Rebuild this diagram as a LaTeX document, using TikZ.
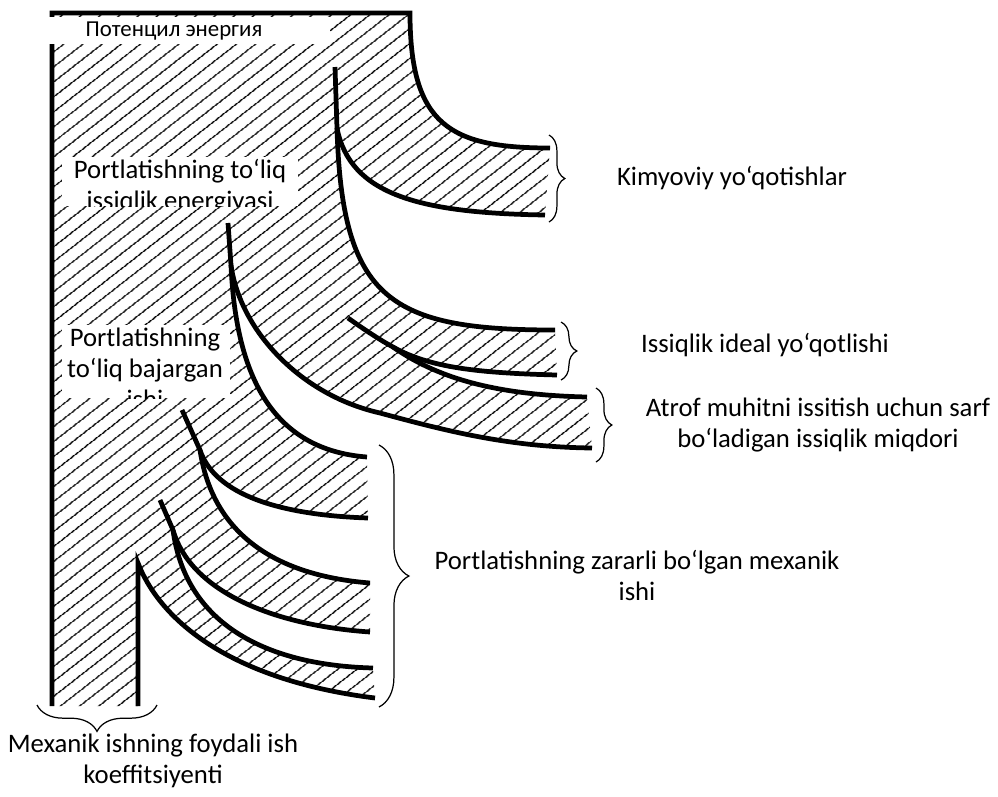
\documentclass[tikz,border=0pt]{standalone}
\usepackage{fontspec}
\setmainfont{Carlito}
\usetikzlibrary{patterns.meta,decorations.pathreplacing}

\begin{document}
\begin{tikzpicture}[x=0.02cm, y=-0.02cm,
  trait/.style={line width=2.7pt},
  hachure/.style={pattern={Lines[angle=38,distance=6.5pt,line width=0.85pt]}},
  accolade/.style={decorate, decoration={brace, amplitude=#1}, line width=0.7pt},
  lbl/.style={font=\fontsize{15.2}{17.6}\selectfont, align=center, inner sep=0pt}]
  \useasboundingbox (0,0) rectangle (998,796);
  % points où les flux se séparent
  \coordinate (s1) at (337,128);
  \coordinate (s2) at (393,347);
  \coordinate (s3) at (231,265);
  \coordinate (s4) at (200,450);
  \coordinate (s5) at (173,530);
  % zone hachurée (contour extérieur de tous les flux)
  \fill[hachure] (52,13) -- (410,13) .. controls (410,125) and (450,148) .. (550,148)
    -- (545,215) .. controls (420,213) and (350,195) .. (s1)
    .. controls (342,300) and (390,330) .. (555,330)
    -- (557,375) .. controls (480,373) and (430,368) .. (s2)
    .. controls (440,380) and (500,395) .. (587,397)
    -- (592,448) .. controls (510,447) and (450,432) .. (380,413)
    .. controls (300,395) and (240,330) .. (s3)
    .. controls (236,380) and (275,450) .. (367,457)
    -- (368,518) .. controls (280,515) and (215,495) .. (s4)
    .. controls (212,530) and (270,575) .. (370,583)
    -- (370,632) .. controls (270,625) and (190,590) .. (s5)
    .. controls (185,620) and (260,665) .. (373,668)
    -- (375,698) .. controls (230,680) and (160,620) .. (138,563)
    -- (138,706) -- (52,706) -- cycle;
  % encadrés blancs (texte coupé par le cadre)
  \begin{scope}
    \clip (62,157) rectangle (298,206);
    \fill[white] (62,157) rectangle (298,206);
    \node[lbl, anchor=base] (issiq) at (180,209) {Portlatishning to‘liq\\issiqlik energiyasi};
  \end{scope}
  \begin{scope}
    \clip (62,325) rectangle (230,398);
    \fill[white] (62,325) rectangle (230,398);
    \node[lbl, anchor=base] (ish) at (145,408) {Portlatishning\\to‘liq bajargan\\ishi};
  \end{scope}
  % bords des flux
  \draw[trait] (52,706) -- (52,13) -- (410,13) .. controls (410,125) and (450,148) .. (550,148);
  % pertes chimiques
  \draw[trait] (335,67) -- (s1) .. controls (350,195) and (420,213) .. (545,215);
  \draw[trait] (s1) .. controls (342,300) and (390,330) .. (555,330);
  % pertes de chaleur
  \draw[trait] (348,318) .. controls (365,330) and (380,340) .. (s2) .. controls (430,368) and (480,373) .. (557,375);
  \draw[trait] (s2) .. controls (440,380) and (500,395) .. (587,397);
  \draw[trait] (228,223) -- (s3) .. controls (240,330) and (300,395) .. (380,413)
    .. controls (450,432) and (510,447) .. (592,448);
  % travail mécanique
  \draw[trait] (s3) .. controls (236,380) and (275,450) .. (367,457);
  \draw[trait] (182,410) -- (s4) .. controls (215,495) and (280,515) .. (368,518);
  \draw[trait] (s4) .. controls (212,530) and (270,575) .. (370,583);
  \draw[trait] (160,500) -- (s5) .. controls (190,590) and (270,625) .. (370,632);
  \draw[trait] (s5) .. controls (185,620) and (260,665) .. (373,668);
  \draw[trait] (138,706) -- (138,563) .. controls (160,620) and (230,680) .. (375,698);
  % titre en haut
  \fill[white] (45,17) rectangle (330,44);
  \node[font=\fontsize{13}{15}\selectfont, inner sep=0pt] (pot) at (174,31) {Потенцил энергия};
  % accolades
  \draw[accolade=9pt] (549,135) -- (549,222);
  \draw[accolade=9pt] (561,322) -- (561,380);
  \draw[accolade=9pt] (596,388) -- (596,462);
  \draw[accolade=17pt] (379,445) -- (379,707);
  \draw[accolade=15pt] (157,705) -- (37,705);
  % légendes
  \node[lbl] (kim) at (732,178) {Kimyoviy yo‘qotishlar};
  \node[lbl] (ideal) at (765,345) {Issiqlik ideal yo‘qotlishi};
  \node[lbl] (atrof) at (818,425) {Atrof muhitni issitish uchun sarf\\bo‘ladigan issiqlik miqdori};
  \node[lbl] (zarar) at (637,575) {Portlatishning zararli bo‘lgan mexanik\\ishi};
  \node[lbl] (mexanik) at (153,761) {Mexanik ishning foydali ish\\koeffitsiyenti};
\end{tikzpicture}
\end{document}
